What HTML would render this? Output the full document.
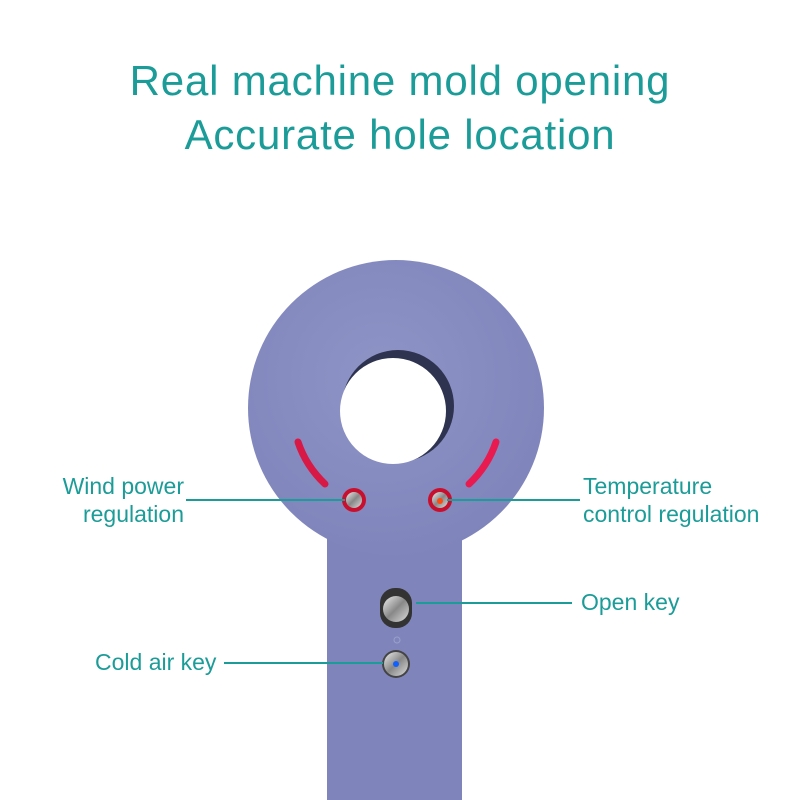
<!DOCTYPE html>
<html><head><style>
body{margin:0;width:800px;height:800px;background:#fff;overflow:hidden;position:relative;font-family:"Liberation Sans",sans-serif}
.t{position:absolute;left:0;width:800px;text-align:center;color:#1c9c98;font-size:42px;letter-spacing:0.8px}
.l{position:absolute;color:#1c9c98;font-size:23px;line-height:28px}
</style></head><body>
<div class="t" style="top:57px">Real machine mold opening</div>
<div class="t" style="top:111px">Accurate hole location</div>
<svg width="800" height="800" style="position:absolute;left:0;top:0">
<defs>
<radialGradient id="g" cx="0.45" cy="0.4" r="0.7"><stop offset="0" stop-color="#8e94c6"/><stop offset="1" stop-color="#7d83b9"/></radialGradient>
<linearGradient id="m" x1="0" y1="0" x2="1" y2="1"><stop offset="0" stop-color="#eee"/><stop offset="0.5" stop-color="#888"/><stop offset="1" stop-color="#ddd"/></linearGradient>
</defs>
<rect x="327" y="500" width="135" height="310" rx="10" fill="#7f85ba"/>
<circle cx="396" cy="408" r="148" fill="url(#g)"/>
<circle cx="398" cy="406" r="56" fill="#2e3350"/>
<circle cx="393" cy="411" r="53" fill="#fff"/>
<path d="M298 442 Q306 466 325 484" stroke="#d81845" stroke-width="7" fill="none" stroke-linecap="round"/>
<path d="M496 442 Q488 466 469 484" stroke="#e81a50" stroke-width="7" fill="none" stroke-linecap="round"/>
<circle cx="354" cy="500" r="12" fill="#c8102e"/><circle cx="354" cy="500" r="8" fill="url(#m)"/>
<circle cx="440" cy="500" r="12" fill="#c8102e"/><circle cx="440" cy="500" r="8" fill="url(#m)"/><circle cx="440" cy="501" r="3" fill="#ff4a10"/>
<rect x="380" y="588" width="32" height="40" rx="15" fill="#333"/>
<circle cx="396" cy="609" r="13" fill="url(#m)"/>
<circle cx="396" cy="664" r="14" fill="#444"/><circle cx="396" cy="664" r="12" fill="url(#m)"/><circle cx="396" cy="664" r="3" fill="#1060ff"/>
<circle cx="397" cy="640" r="3" fill="none" stroke="#9aa0cc" stroke-width="1"/>
<g stroke="#1c9c98" stroke-width="2">
<line x1="186" y1="500" x2="345" y2="500"/>
<line x1="447" y1="500" x2="580" y2="500"/>
<line x1="416" y1="603" x2="572" y2="603"/>
<line x1="224" y1="663" x2="383" y2="663"/>
</g>
</svg>
<div class="l" style="right:616px;top:472px;text-align:right">Wind power<br>regulation</div>
<div class="l" style="left:583px;top:472px">Temperature<br>control regulation</div>
<div class="l" style="left:581px;top:588px">Open key</div>
<div class="l" style="left:95px;top:648px">Cold air key</div>
</body></html>
